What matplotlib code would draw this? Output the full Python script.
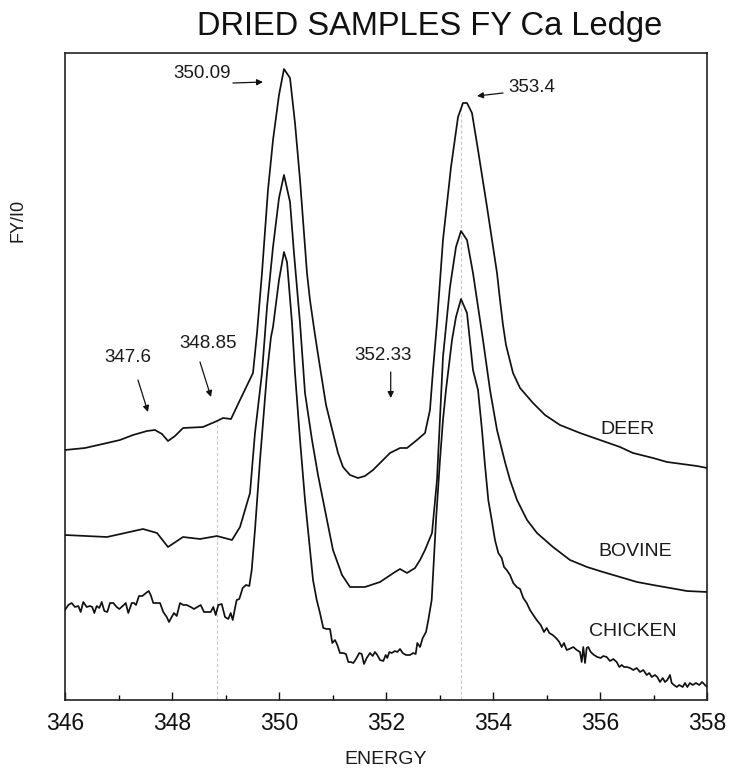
import matplotlib
matplotlib.use("Agg")
import matplotlib.pyplot as plt
from matplotlib.ticker import MultipleLocator

plt.rcParams['font.family'] = ['Liberation Sans', 'DejaVu Sans']

# ---------------- data ----------------
deer_e = [346.000, 346.374, 346.785, 347.028, 347.271, 347.533, 347.682, 347.813, 347.925, 348.056,
          348.206, 348.579, 348.841, 348.953, 349.103, 349.271, 349.514, 349.589, 349.682, 349.794,
          349.888, 350.000, 350.093, 350.206, 350.299, 350.393, 350.523, 350.579, 350.673, 350.766,
          350.879, 351.009, 351.103, 351.196, 351.327, 351.477, 351.607, 351.757, 352.075, 352.262,
          352.393, 352.579, 352.729, 352.822, 352.879, 352.953, 353.065, 353.215, 353.346, 353.439,
          353.514, 353.607, 353.720, 353.888, 354.075, 354.131, 354.187, 354.243, 354.374, 354.505,
          354.748, 354.972, 355.252, 355.626, 356.000, 356.374, 356.617, 356.991, 357.252, 357.813,
          358.000]
deer_i = [2.50, 2.52, 2.57, 2.60, 2.65, 2.69, 2.70, 2.66, 2.59, 2.64,
          2.72, 2.73, 2.79, 2.82, 2.81, 3.00, 3.27, 3.67, 4.27, 5.10,
          5.60, 6.05, 6.31, 6.22, 5.77, 5.20, 4.27, 4.00, 3.65, 3.33,
          2.95, 2.67, 2.47, 2.33, 2.25, 2.22, 2.24, 2.30, 2.47, 2.52,
          2.52, 2.60, 2.67, 2.90, 3.30, 3.77, 4.60, 5.33, 5.83, 5.97,
          5.97, 5.87, 5.50, 4.93, 4.27, 4.00, 3.75, 3.55, 3.27, 3.12,
          2.97, 2.85, 2.75, 2.67, 2.60, 2.53, 2.47, 2.42, 2.38, 2.34,
          2.32]

bovine_e = [346.000, 346.785, 347.458, 347.720, 347.925, 348.206, 348.523, 348.841, 349.121, 349.271,
            349.458, 349.551, 349.682, 349.776, 349.888, 350.000, 350.093, 350.206, 350.280, 350.393,
            350.486, 350.617, 350.729, 350.822, 351.009, 351.178, 351.327, 351.607, 351.888, 352.168,
            352.262, 352.393, 352.542, 352.636, 352.729, 352.860, 352.953, 353.065, 353.196, 353.308,
            353.402, 353.514, 353.626, 353.813, 353.944, 354.075, 354.224, 354.318, 354.449, 354.636,
            354.822, 355.121, 355.439, 355.757, 356.056, 356.374, 356.692, 356.991, 357.308, 357.626,
            358.000]
bovine_i = [1.65, 1.63, 1.71, 1.67, 1.53, 1.63, 1.61, 1.64, 1.60, 1.73,
            2.07, 2.67, 3.27, 3.93, 4.53, 5.02, 5.25, 4.98, 4.47, 3.77,
            3.07, 2.60, 2.25, 2.00, 1.50, 1.25, 1.13, 1.13, 1.18, 1.28,
            1.31, 1.27, 1.32, 1.40, 1.50, 1.67, 2.20, 3.43, 4.13, 4.53,
            4.69, 4.60, 4.27, 3.60, 3.10, 2.70, 2.38, 2.20, 2.00, 1.80,
            1.67, 1.53, 1.40, 1.33, 1.28, 1.23, 1.18, 1.15, 1.12, 1.09,
            1.08]

chicken_e = [346.000, 346.062, 346.125, 346.187, 346.249, 346.293, 346.342, 346.406, 346.467, 346.510,
             346.548, 346.593, 346.641, 346.686, 346.735, 346.791, 346.841, 346.903, 346.966, 347.015,
             347.079, 347.135, 347.183, 347.247, 347.290, 347.327, 347.383, 347.445, 347.514, 347.564,
             347.602, 347.650, 347.714, 347.776, 347.837, 347.901, 347.944, 347.994, 348.037, 348.088,
             348.150, 348.211, 348.275, 348.350, 348.411, 348.473, 348.536, 348.598, 348.660, 348.723,
             348.772, 348.817, 348.865, 348.929, 348.991, 349.052, 349.097, 349.135, 349.178, 349.209,
             349.258, 349.321, 349.383, 349.445, 349.490, 349.551, 349.645, 349.720, 349.776, 349.850,
             349.888, 350.000, 350.093, 350.150, 350.243, 350.299, 350.393, 350.486, 350.579, 350.636,
             350.705, 350.766, 350.828, 350.892, 350.953, 350.996, 351.047, 351.090, 351.140, 351.202,
             351.252, 351.295, 351.340, 351.389, 351.439, 351.501, 351.546, 351.589, 351.639, 351.701,
             351.751, 351.794, 351.837, 351.888, 351.950, 351.994, 352.024, 352.062, 352.107, 352.168,
             352.211, 352.262, 352.312, 352.374, 352.449, 352.510, 352.555, 352.585, 352.636, 352.686,
             352.748, 352.791, 352.854, 352.935, 353.009, 353.065, 353.121, 353.234, 353.308, 353.402,
             353.514, 353.626, 353.720, 353.794, 353.850, 353.912, 353.976, 354.037, 354.099, 354.163,
             354.206, 354.256, 354.318, 354.379, 354.443, 354.505, 354.566, 354.630, 354.692, 354.753,
             354.817, 354.892, 354.953, 355.004, 355.052, 355.116, 355.178, 355.239, 355.284, 355.327,
             355.377, 355.426, 355.501, 355.564, 355.626, 355.658, 355.688, 355.720, 355.751, 355.781,
             355.826, 355.888, 355.950, 356.013, 356.062, 356.125, 356.187, 356.249, 356.312, 356.361,
             356.406, 356.449, 356.499, 356.561, 356.623, 356.686, 356.748, 356.810, 356.873, 356.921,
             356.966, 357.028, 357.071, 357.121, 357.172, 357.215, 357.258, 357.308, 357.340, 357.383,
             357.434, 357.482, 357.546, 357.589, 357.632, 357.682, 357.733, 357.794, 357.856, 357.907,
             357.963, 358.000]
chicken_i = [0.90, 0.95, 0.97, 0.93, 0.94, 0.88, 0.98, 0.93, 0.94, 0.93,
             0.87, 0.94, 0.92, 0.98, 0.89, 0.88, 0.97, 0.97, 0.93, 0.91,
             0.94, 0.97, 0.87, 0.97, 0.97, 0.95, 1.04, 1.04, 1.07, 1.09,
             1.05, 0.97, 0.97, 0.97, 0.88, 0.83, 0.78, 0.83, 0.87, 0.84,
             0.97, 0.95, 0.95, 0.93, 0.91, 0.93, 0.95, 0.88, 0.88, 0.88,
             0.93, 0.85, 0.95, 0.96, 0.83, 0.81, 0.87, 0.80, 0.92, 1.00,
             1.01, 1.12, 1.15, 1.14, 1.30, 1.70, 2.40, 2.90, 3.27, 3.63,
             3.73, 4.20, 4.48, 4.38, 3.77, 3.27, 2.60, 2.00, 1.50, 1.20,
             1.00, 0.87, 0.72, 0.71, 0.71, 0.57, 0.60, 0.55, 0.47, 0.47,
             0.46, 0.38, 0.38, 0.37, 0.41, 0.47, 0.46, 0.36, 0.42, 0.47,
             0.44, 0.48, 0.45, 0.40, 0.39, 0.45, 0.42, 0.48, 0.47, 0.49,
             0.48, 0.51, 0.47, 0.45, 0.45, 0.47, 0.46, 0.57, 0.53, 0.62,
             0.68, 0.80, 1.00, 1.80, 2.40, 2.80, 3.10, 3.60, 3.83, 4.01,
             3.87, 3.30, 3.10, 2.70, 2.35, 2.00, 1.80, 1.60, 1.47, 1.42,
             1.33, 1.30, 1.25, 1.17, 1.13, 1.11, 1.02, 0.97, 0.90, 0.85,
             0.80, 0.75, 0.68, 0.72, 0.67, 0.65, 0.62, 0.58, 0.53, 0.57,
             0.50, 0.51, 0.53, 0.50, 0.48, 0.38, 0.53, 0.37, 0.52, 0.53,
             0.48, 0.45, 0.43, 0.42, 0.44, 0.43, 0.39, 0.41, 0.38, 0.33,
             0.35, 0.33, 0.33, 0.32, 0.30, 0.32, 0.28, 0.30, 0.25, 0.27,
             0.23, 0.25, 0.23, 0.18, 0.22, 0.18, 0.20, 0.25, 0.17, 0.15,
             0.13, 0.15, 0.13, 0.17, 0.13, 0.17, 0.15, 0.17, 0.15, 0.18,
             0.15, 0.13]

series_names = ["DEER", "BOVINE", "CHICKEN"]
label_pos = [(356.523, 2.71), (356.654, 1.49), (356.617, 0.69)]

# reference lines (energy, top of line)
ref_lines = [(348.85, 2.79), (353.4, 5.97)]

# annotations: text, text position, arrow start, arrow end
annot_text = ["350.09", "353.4", "347.6", "348.85", "352.33"]
annot_xy_text = [(348.561, 6.27), (354.729, 6.12), (347.178, 3.43), (348.673, 3.57), (351.953, 3.45)]
annot_arrow_from = [(349.140, 6.17), (354.187, 6.07), (347.364, 3.20), (348.523, 3.38), (352.088, 3.28)]
annot_arrow_to = [(349.701, 6.18), (353.701, 6.04), (347.551, 2.88), (348.729, 3.03), (352.088, 3.02)]

xticks = [346, 348, 350, 352, 354, 356, 358]

# ---------------- plot ----------------
W, H = 731, 775
fig = plt.figure(figsize=(W / 100, H / 100), dpi=100)
ax = fig.add_axes([65 / W, 1 - 700 / H, (707 - 65) / W, (700 - 53) / H])

lc = '#111111'
for (e, i) in [(deer_e, deer_i), (bovine_e, bovine_i), (chicken_e, chicken_i)]:
    ax.plot(e, i, color=lc, lw=1.25, zorder=3)

for x, top in ref_lines:
    ax.plot([x, x], [0, top], color='#c8c8c8', lw=0.8, ls=(0, (3, 2)), zorder=1)

for name, (x, y) in zip(series_names, label_pos):
    ax.text(x, y, name, fontsize=14, ha='center', va='center', color='#1a1a1a')

for t, pt, p0, p1 in zip(annot_text, annot_xy_text, annot_arrow_from, annot_arrow_to):
    ax.text(pt[0], pt[1], t, fontsize=13.5, ha='center', va='center', color='#1a1a1a')
    ax.annotate('', xy=p1, xytext=p0,
                arrowprops=dict(arrowstyle='-|>', color='#111111', lw=0.9,
                                mutation_scale=9, shrinkA=0, shrinkB=0))

ax.set_xlim(346, 358)
ax.set_ylim(0, 6.47)
ax.set_xticks(xticks)
ax.xaxis.set_minor_locator(MultipleLocator(1))
ax.set_yticks([])
ax.tick_params(axis='x', which='major', direction='in', length=6, width=1.0,
               labelsize=16.5, pad=9, top=False, colors='#111111')
ax.tick_params(axis='x', which='minor', direction='in', length=3.5, width=1.0, top=False)
for s in ax.spines.values():
    s.set_linewidth(1.2)
    s.set_color('#222222')

fig.text(386 / W, 1 - 760 / H, 'ENERGY', fontsize=14, ha='center', va='center', color='#1a1a1a')
fig.text(18 / W, 1 - 220 / H, 'FY/I0', fontsize=13, rotation=90, ha='center', va='center', color='#1a1a1a')
fig.text(429.5 / W, 1 - 26 / H, 'DRIED SAMPLES FY Ca Ledge', fontsize=23.5, ha='center', va='center',
         color='#111111')

fig.savefig('out.png', dpi=100)
